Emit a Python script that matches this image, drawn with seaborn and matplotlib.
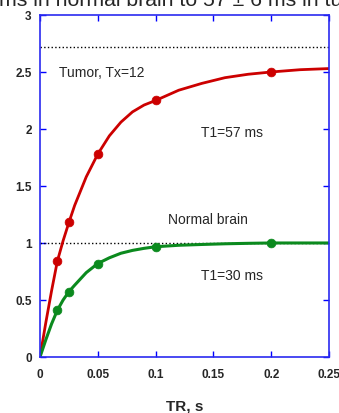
import pandas as pd
import matplotlib
matplotlib.use('Agg')
import matplotlib.pyplot as plt
import seaborn as sns

# measured points
tr_pts = [0.015, 0.025, 0.05, 0.1, 0.2]
tumor_pts = [0.84, 1.18, 1.78, 2.25, 2.50]
normal_pts = [0.41, 0.573, 0.82, 0.967, 1.0]

# fitted curves
tr_curve = [0, 0.005, 0.01, 0.015, 0.02, 0.025, 0.03, 0.04, 0.05, 0.06, 0.07,
            0.08, 0.09, 0.1, 0.12, 0.14, 0.16, 0.18, 0.2, 0.225, 0.25]
tumor_curve = [0, 0.30, 0.58, 0.84, 1.02, 1.18, 1.33, 1.58, 1.78, 1.94, 2.06,
               2.15, 2.21, 2.25, 2.34, 2.40, 2.45, 2.48, 2.50, 2.52, 2.53]
normal_curve = [0, 0.15, 0.29, 0.41, 0.50, 0.573, 0.63, 0.74, 0.82, 0.87, 0.91,
                0.935, 0.953, 0.967, 0.98, 0.987, 0.993, 0.997, 1.0, 1.0, 1.0]

# asymptotes
tumor_max = 2.72
normal_max = 1.0

x_ticks = [0, 0.05, 0.1, 0.15, 0.2, 0.25]
x_labels = ['0', '0.05', '0.1', '0.15', '0.2', '0.25']
y_ticks = [0, 0.5, 1, 1.5, 2, 2.5, 3]
y_labels = ['0', '0.5', '1', '1.5', '2', '2.5', '3']

sns.set_theme(style='ticks')
plt.rcParams['font.family'] = ['Liberation Sans', 'DejaVu Sans']

curves = pd.DataFrame({'TR': tr_curve, 'Tumor': tumor_curve, 'Normal': normal_curve})
points = pd.DataFrame({'TR': tr_pts, 'Tumor': tumor_pts, 'Normal': normal_pts})

fig = plt.figure(figsize=(3.39, 4.14), dpi=100)
ax = fig.add_axes([0.118, 0.1353, 0.8525, 0.8261])

ax.plot([0, 0.25], [tumor_max, tumor_max], color='black', ls=':', lw=1)
ax.plot([0, 0.25], [normal_max, normal_max], color='black', ls=':', lw=1)

red = '#cc0000'
green = '#0b8a1e'
sns.lineplot(data=curves, x='TR', y='Tumor', ax=ax, color=red, lw=2)
sns.lineplot(data=curves, x='TR', y='Normal', ax=ax, color=green, lw=2.2)
sns.scatterplot(data=points, x='TR', y='Tumor', ax=ax, color=red, s=40,
                edgecolor=red, zorder=5)
sns.scatterplot(data=points, x='TR', y='Normal', ax=ax, color=green, s=40,
                edgecolor=green, zorder=5)

ax.set_xlim(0, 0.25)
ax.set_ylim(0, 3)
ax.set_xticks(x_ticks)
ax.set_xticklabels(x_labels)
ax.set_yticks(y_ticks)
ax.set_yticklabels(y_labels)
ax.tick_params(direction='in', length=4, width=1, color='blue',
               top=True, right=True, labelsize=8.5)
ax.tick_params(axis='x', pad=8)
ax.tick_params(axis='y', pad=6)
for lab in ax.get_xticklabels() + ax.get_yticklabels():
    lab.set_fontweight('bold')
for sp in ax.spines.values():
    sp.set_color('#2a2af0')
    sp.set_linewidth(1.2)

ax.set_xlabel('TR, s', fontsize=11, fontweight='bold', labelpad=13)
ax.set_ylabel('')

ax.text(0.0165, 2.5, 'Tumor, Tx=12', fontsize=10, va='center')
ax.text(0.139, 1.97, 'T1=57 ms', fontsize=10, va='center')
ax.text(0.1105, 1.21, 'Normal brain', fontsize=10, va='center')
ax.text(0.139, 0.72, 'T1=30 ms', fontsize=10, va='center')

fig.text(-0.003, 1 - 6 / 414, 'ms in normal brain to 57 \u00b1 6 ms in tumor',
         fontsize=15.3, va='baseline', ha='left')

fig.savefig('out.png', dpi=100)
